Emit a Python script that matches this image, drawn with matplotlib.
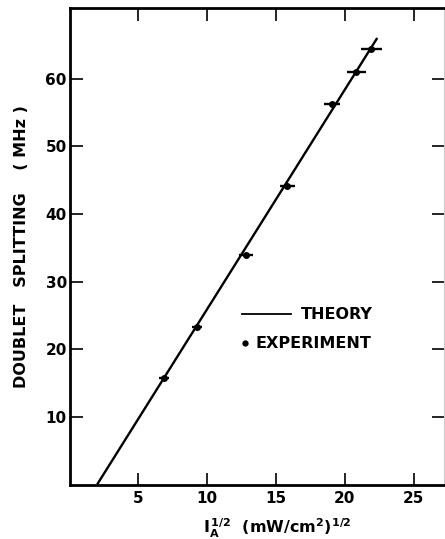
import matplotlib
matplotlib.use("Agg")
import matplotlib.pyplot as plt
import numpy as np

# measured doublet splitting vs square root of intensity
sqrt_I = [6.84, 9.27, 12.83, 15.81, 19.08, 20.84, 21.91]
splitting = [15.7, 23.3, 33.9, 44.1, 56.3, 60.9, 64.3]
x_err = [0.37, 0.36, 0.5, 0.55, 0.6, 0.7, 0.75]

# theory line end points
theory_x = [2.0, 22.35]
theory_y = [0.0, 66.0]

xticks = [5, 10, 15, 20, 25]
yticks = [10, 20, 30, 40, 50, 60]

plt.rcParams['font.family'] = 'DejaVu Sans'
plt.rcParams['mathtext.fontset'] = 'dejavusans'

fig = plt.figure(figsize=(4.45, 5.39), dpi=100)
ax = fig.add_axes([69.6 / 445, 54.5 / 539, (444 - 69.6) / 445, (485 - 8.7) / 539])

ax.plot(theory_x, theory_y, color='black', lw=1.7, solid_capstyle='butt')
ax.errorbar(sqrt_I, splitting, xerr=x_err, fmt='o', color='black',
            ms=4, elinewidth=1.7, capsize=0)

ax.set_xlim(0, 27.2)
ax.set_ylim(0, 70.4)
ax.set_xticks(xticks)
ax.set_yticks(yticks)
ax.tick_params(direction='in', length=9, width=1.2, labelsize=11,
               top=True, right=True, pad=5)
ax.tick_params(axis='y', pad=2)
for lbl in ax.get_xticklabels() + ax.get_yticklabels():
    lbl.set_fontweight('semibold')

for side in ['left', 'bottom', 'top']:
    ax.spines[side].set_linewidth(2.0)
ax.spines['right'].set_linewidth(0.8)
ax.spines['right'].set_color('#cccccc')

ax.set_ylabel('DOUBLET   SPLITTING    ( MHz )', fontsize=11.5,
              fontweight='semibold', labelpad=12)
ax.set_xlabel(r'$\mathbf{I_A^{\,1/2}}$  (mW/cm$\mathbf{^2}$)$\mathbf{^{1/2}}$',
              fontsize=11.5, fontweight='semibold')
ax.xaxis.set_label_coords(0.555, -0.068)

# hand-placed legend
ax.plot([12.5, 16.1], [25.2, 25.2], color='black', lw=1.3)
ax.text(16.8, 25.2, 'THEORY', fontsize=11.5, fontweight='semibold', va='center')
ax.plot([12.75], [20.9], 'o', color='black', ms=3.5)
ax.text(13.5, 20.9, 'EXPERIMENT', fontsize=11.5, fontweight='semibold', va='center')

fig.savefig('out.png', dpi=100)
